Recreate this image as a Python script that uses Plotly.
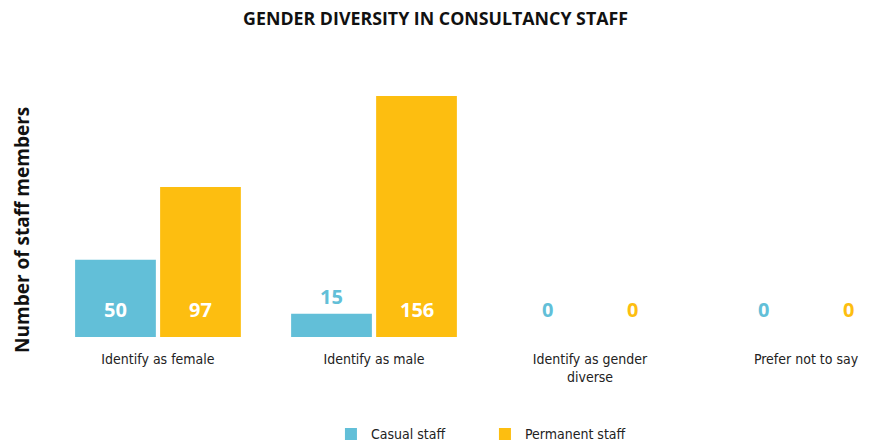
import plotly.graph_objects as go

categories = ["Identify as female", "Identify as male", "Identify as gender<br>diverse", "Prefer not to say"]
casual = [50, 15, 0, 0]
permanent = [97, 156, 0, 0]
series_names = ["Casual staff", "Permanent staff"]
colors = ["#62BFD8", "#FDBE10"]
y_title = "Number of staff members"

num_font = "Open Sans"
cond_font = "DejaVu Sans Condensed, sans-serif"

fig = go.Figure()
for name, vals, col in zip(series_names, [casual, permanent], colors):
    fig.add_trace(go.Bar(x=categories, y=vals, name=name, marker=dict(color=col, line=dict(width=0))))

annotations = []
for vals, col, shift in [(casual, colors[0], -42.5), (permanent, colors[1], 42.5)]:
    for cat, v in zip(categories, vals):
        if v > 25:
            annotations.append(dict(x=cat, y=18, xref="x", yref="y", text=str(v), showarrow=False,
                                    xshift=shift, yanchor="middle",
                                    font=dict(family=num_font, size=20, color="white", weight="bold")))
        else:
            annotations.append(dict(x=cat, y=max(18, v + 11.5), xref="x", yref="y", text=str(v), showarrow=False,
                                    xshift=shift, yanchor="middle",
                                    font=dict(family=num_font, size=20, color=col, weight="bold")))

annotations.append(dict(x=-0.0282, y=0.407, xref="paper", yref="paper", text=y_title, showarrow=False,
                        textangle=-90, xanchor="center", yanchor="middle",
                        font=dict(family=num_font, size=19, color="#111", weight="bold")))

fig.update_layout(
    width=862, height=438,
    margin=dict(l=37, r=8, t=66, b=109, autoexpand=False),
    plot_bgcolor="white", paper_bgcolor="white",
    barmode="group", bargap=0.213, bargroupgap=0.05,
    title=dict(text="GENDER DIVERSITY IN CONSULTANCY STAFF", x=0.496, xref="container", xanchor="center",
               y=1, yref="container", yanchor="top", pad=dict(t=5),
               font=dict(family=num_font, size=17.8, color="#111", weight="bold")),
    annotations=annotations,
    legend=dict(orientation="h", x=0.35, xanchor="left", y=-0.37, yanchor="middle",
                font=dict(family=cond_font, size=14, color="#222"), entrywidth=109, entrywidthmode="pixels",
                itemsizing="constant"),
    showlegend=True,
)
fig.update_xaxes(type="category", range=[-0.523, 3.259], showgrid=False, showline=False, ticks="",
                 ticklabelstandoff=12, automargin=False,
                 tickfont=dict(family=cond_font, size=14, color="#222"))
fig.update_yaxes(range=[0, 170.2], showgrid=False, showticklabels=False, zeroline=False, showline=False,
                 automargin=False)

fig.write_html("out.html")
